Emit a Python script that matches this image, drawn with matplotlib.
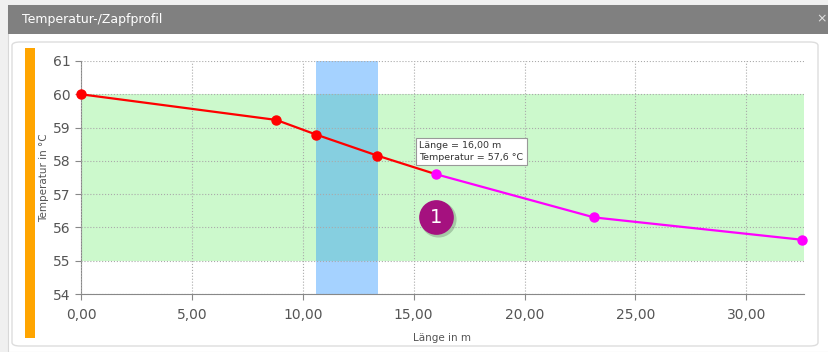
import matplotlib
matplotlib.use("Agg")
import matplotlib.pyplot as plt
from matplotlib.patches import FancyBboxPatch, Rectangle
from matplotlib.ticker import FuncFormatter, MultipleLocator

# data
lengths = [0.0, 8.8, 10.6, 13.35, 16.0, 23.14, 32.5]
temps = [60.0, 59.23, 58.79, 58.16, 57.6, 56.3, 55.63]
split = 4  # first point of the magenta (tapped) part
band_temp = (55.0, 60.0)
band_len = (10.6, 13.4)
marker_pos = (16.0, 56.3)
tooltip_idx = 4

fig = plt.figure(figsize=(8.29, 3.52), dpi=100)
fig.patch.set_facecolor("#f0f0f0")

# window frame / title bar
fig.patches.append(Rectangle((8 / 829, 0), 821 / 829, 347 / 352, transform=fig.transFigure,
                             facecolor="white", edgecolor="#d8d8d8", lw=0.8, zorder=-2))
fig.patches.append(Rectangle((8 / 829, 1 - 34 / 352), 821 / 829, 29 / 352, transform=fig.transFigure,
                             facecolor="#808080", edgecolor="none", zorder=-1))
fig.patches.append(FancyBboxPatch((12 / 829, 6 / 352), 806 / 829, 304 / 352, transform=fig.transFigure,
                                  boxstyle="round,pad=0,rounding_size=0.01", facecolor="white",
                                  edgecolor="#dddddd", lw=1.0, zorder=-1))
fig.text(22 / 829, 1 - 19 / 352, "Temperatur-/Zapfprofil", color="white", fontsize=9,
         va="center", ha="left")
fig.text(822 / 829, 1 - 19 / 352, "\u00d7", color="#e0e0e0", fontsize=9, va="center", ha="center")
# orange bar at the left
fig.patches.append(Rectangle((25 / 829, 14 / 352), 10 / 829, 290 / 352, transform=fig.transFigure,
                             facecolor="#ffa500", edgecolor="none", zorder=-1))

ax = fig.add_axes([81 / 829, 1 - 294 / 352, 723 / 829, 233 / 352])
ax.set_xlim(0, 32.6)
ax.set_ylim(54, 61)

ax.axhspan(band_temp[0], band_temp[1], color="#ccf9cc", zorder=0, lw=0)
ax.axvspan(band_len[0], band_len[1], color="#1e90ff", alpha=0.4, zorder=1, lw=0)

ax.plot(lengths[:split + 1], temps[:split + 1], color="#ff0000", lw=1.6, zorder=3)
ax.plot(lengths[:split], temps[:split], "o", color="#ff0000", ms=6.5, zorder=4, clip_on=False)
ax.plot(lengths[split:], temps[split:], color="#ff00ff", lw=1.6, marker="o", ms=6.5,
        zorder=4, clip_on=False)

ax.grid(True, color="#aaaaaa", ls=":", lw=0.8)
ax.set_axisbelow(False)
for s in ["top", "right"]:
    ax.spines[s].set_visible(False)
for s in ["left", "bottom"]:
    ax.spines[s].set_color("#888888")
ax.xaxis.set_major_locator(MultipleLocator(5))
ax.yaxis.set_major_locator(MultipleLocator(1))
ax.xaxis.set_major_formatter(FuncFormatter(lambda v, p: f"{v:.2f}".replace(".", ",")))
ax.tick_params(colors="#888888", labelcolor="#555555", labelsize=10, length=4)
ax.tick_params(axis="x", pad=6)
ax.set_xlabel("Länge in m", fontsize=7.5, color="#555555", labelpad=8)
ax.set_ylabel("Temperatur in °C", fontsize=7.5, color="#555555")
ax.yaxis.set_label_coords((49 - 81) / 723, 0.5)

# tooltip
tx, ty = lengths[tooltip_idx], temps[tooltip_idx]
tip = f"Länge = {tx:.2f} m\nTemperatur = {ty:.1f} °C".replace(".", ",")
ax.annotate(tip, xy=(tx, ty), xytext=(-12, 9), textcoords="offset points", fontsize=6.8,
            color="#333333", ha="left", va="bottom", zorder=6, linespacing=1.4,
            bbox=dict(boxstyle="square,pad=0.35", fc="white", ec="#999999", lw=0.8))

# numbered marker with a soft shadow
ax.plot([marker_pos[0] + 0.08], [marker_pos[1] - 0.06], "o", ms=26, color="#00000030", mec="none", zorder=5)
ax.plot([marker_pos[0]], [marker_pos[1]], "o", ms=25, color="#a5117f", mec="none", zorder=6)
ax.text(marker_pos[0], marker_pos[1], "1", color="white", fontsize=14, ha="center",
        va="center", zorder=7)

fig.savefig("out.png", dpi=100, facecolor=fig.get_facecolor())
